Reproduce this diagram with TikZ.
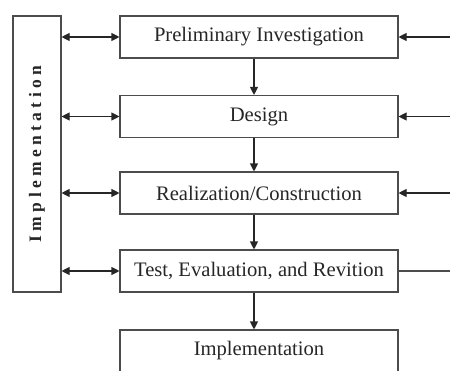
\documentclass[tikz,border=0pt]{standalone}
\usepackage{fontspec}
\setmainfont{Liberation Serif}
\usetikzlibrary{arrows.meta}
\begin{document}
\begin{tikzpicture}[x=1pt,y=1pt,
  box/.style={draw=black!70, line width=1.1pt, minimum width=278pt, minimum height=42pt, inner sep=0pt, font=\fontsize{20.6}{22}\selectfont, text=black!85},
  side/.style={draw=black!70, line width=1.1pt, minimum width=48pt, minimum height=276pt, inner sep=0pt},
  arr/.style={line width=1.1pt, draw=black!85, -{Triangle[length=8pt,width=8pt]}},
  darr/.style={line width=1.1pt, draw=black!85, {Triangle[length=8pt,width=8pt]}-{Triangle[length=8pt,width=8pt]}},
  plain/.style={line width=1.1pt, draw=black!70}]
\useasboundingbox (0,0) rectangle (450,-370);
\node[box] (b1) at (259,-37) {Preliminary Investigation};
\node[box] (b2) at (259,-116.5) {Design};
\node[box] (b3) at (259,-193) {Realization/Construction};
\node[box] (b4) at (259,-271) {Test, Evaluation, and Revition};
\node[box] (b5) at (259,-351) {Implementation};
\node[side] (lb) at (37,-154) {};
\node[rotate=90, font=\fontsize{17.5}{20}\selectfont\bfseries, text=black!85] (lt) at (lb.center) {I m p l e m e n t a t i o n};
\foreach \a/\b in {b1/b2,b2/b3,b3/b4,b4/b5}
  \draw[arr] ([xshift=-5pt]\a.south) -- ([xshift=-5pt]\b.north);
\foreach \b in {b1,b2,b3,b4}
  \draw[darr] (lb.east |- \b.west) -- (\b.west);
\coordinate (r1) at (450,-37);
\coordinate (r2) at (450,-116.5);
\coordinate (r3) at (450,-193);
\coordinate (r4) at (450,-271);
\draw[arr] (r1) -- (b1.east);
\draw[arr] (r2) -- (b2.east);
\draw[arr] (r3) -- (b3.east);
\draw[plain] (r4) -- (b4.east);
\end{tikzpicture}
\end{document}
